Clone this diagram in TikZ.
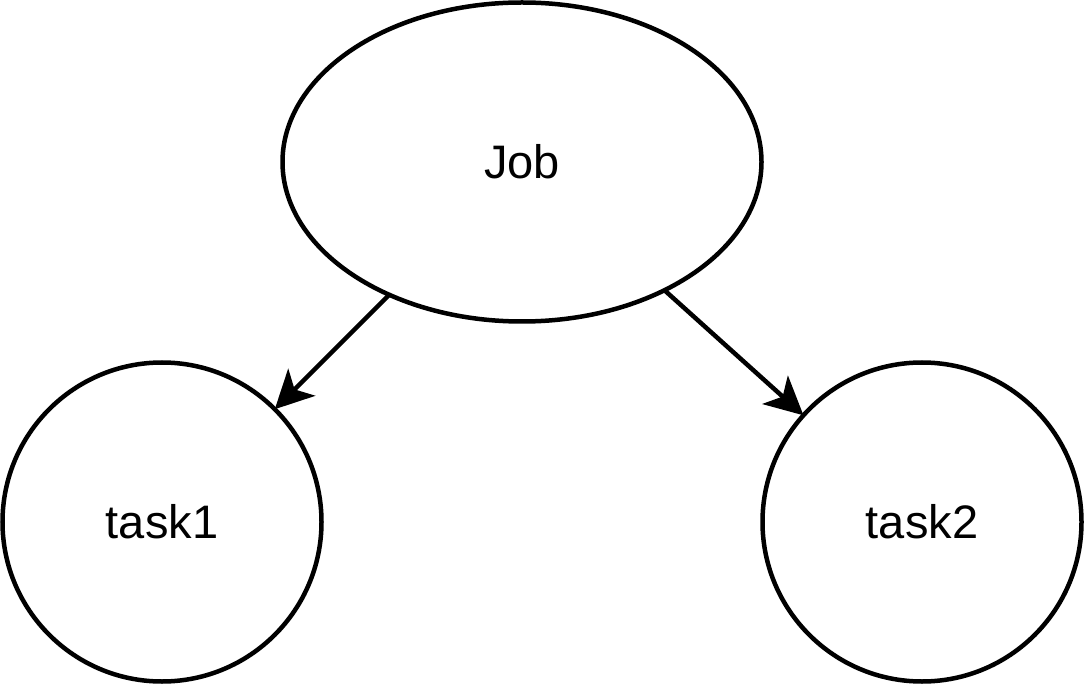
\documentclass[tikz,border=0pt]{standalone}
\usepackage{fontspec}
\setmainfont{Liberation Sans}
\usetikzlibrary{arrows.meta,shapes.geometric}
\begin{document}
\begin{tikzpicture}[x=1pt,y=-1pt,
  shapeline/.style={draw=black,line width=4.5pt,inner sep=0pt,outer sep=0pt,font=\fontsize{47}{56}\selectfont},
  jobshape/.style={shapeline,ellipse,minimum width=479pt,minimum height=319pt},
  taskshape/.style={shapeline,circle,minimum size=319pt},
  link/.style={line width=4.5pt,-{Stealth[length=38pt,width=38pt,inset=10pt]}}]
\useasboundingbox (0,0) rectangle (1084,684);
\node[jobshape] (job) at (522,162) {Job};
\node[taskshape] (t1) at (162,522) {task1};
\node[taskshape] (t2) at (922,522) {task2};
\draw[link] (job) -- (t1);
\draw[link] (job) -- (t2);
\end{tikzpicture}
\end{document}
